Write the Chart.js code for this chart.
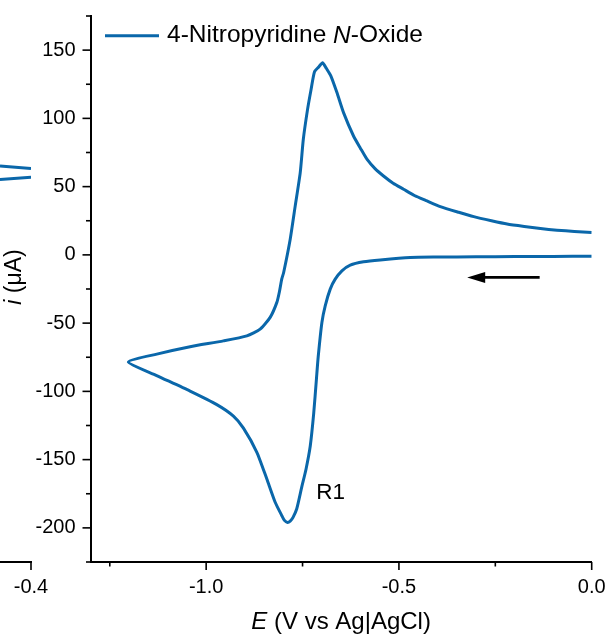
<!DOCTYPE html>
<html>
<head>
<meta charset="utf-8">
<script src="https://cdn.jsdelivr.net/npm/chart.js@4.4.0/dist/chart.umd.min.js"></script>
<style>
  html, body { margin: 0; padding: 0; background: #fff; }
  #wrap { position: relative; width: 616px; height: 644px; }
  #side, #main { position: absolute; left: 0; top: 0; }
</style>
</head>
<body>
<div id="wrap">
  <canvas id="side" width="64" height="644"></canvas>
  <canvas id="main" width="616" height="644"></canvas>
</div>
<script>
// cyclic voltammogram, cathodic scan 0 -> -1.2 V then back to 0 V
const potential = [
  // forward (cathodic)
  0.0, -0.1, -0.2, -0.3, -0.4, -0.4706, -0.5484, -0.5918, -0.6263, -0.6479, -0.6653,
  -0.6782, -0.6912, -0.6998, -0.7095, -0.714, -0.721, -0.730, -0.741, -0.752, -0.765,
  -0.775, -0.782, -0.789, -0.797, -0.8036, -0.821, -0.8426, -0.8685, -0.9033, -0.9293,
  -0.9724, -1.0417, -1.1284, -1.2019,
  // reverse (anodic)
  -1.128, -1.0417, -0.9552, -0.8945, -0.86, -0.834, -0.8166, -0.81, -0.804, -0.799,
  -0.782, -0.769, -0.756, -0.748, -0.737, -0.728, -0.719, -0.708, -0.698, -0.688,
  -0.6764, -0.6608, -0.6437, -0.6178, -0.600, -0.583, -0.562, -0.54, -0.515, -0.488,
  -0.46, -0.4272, -0.3927, -0.345, -0.306, -0.26, -0.2195, -0.175, -0.133, -0.09,
  -0.045, 0.0
];
const current = [
  -1.0, -1.1, -1.2, -1.4, -1.6, -1.9, -3.7, -5.1, -7.5, -11.7, -17.8,
  -25.1, -37.3, -49.5, -75, -91, -116, -140, -157, -170, -186,
  -192.5, -195, -196, -194.5, -191.1, -181.2, -164.2, -144.6, -126.9, -118.1,
  -109.7, -99.8, -88.4, -78.5,
  -72.7, -67.3, -63.0, -59.3, -54.4, -45.8, -34.8, -27, -17.8, -12.9,
  11.5, 35.9, 60.3, 84.7, 106.6, 121, 134.2, 137.7, 140.8, 136.5,
  131, 118.9, 104.2, 87.1, 78.2, 70.1, 63.2, 57.8, 52.5, 48.1,
  43.5, 39.5, 35.4, 31.2, 28.0, 25.0, 22.6, 20.8, 19.3, 18.1,
  17.2, 16.4
];

// ticks
const xTicks = [-1.25, -1.0, -0.75, -0.5, -0.25, 0.0];
const yTicks = [-225, -200, -175, -150, -125, -100, -75, -50, -25, 0, 25, 50, 75, 100, 125, 150, 175];

// piece of the neighbouring panel visible at the left edge
const sideE = [-0.48, -0.4];
const sideUpper = [65.1, 63.3];
const sideLower = [55.2, 56.8];
const sideTicks = [-0.4];

// annotations
const scanArrow = { from: [-0.135, -16.5], to: [-0.323, -16.5] };
const peakLabel = { text: 'R1', e: -0.677, i: -174 };
const legendParts = [['4-Nitropyridine ', false], ['N', true], ['-Oxide', false]];

const blue = '#0a67aa';
const family = '"Liberation Sans", Arial, sans-serif';

function isMajor(v, step) {
    return Math.abs(v / step - Math.round(v / step)) < 1e-6;
}

// short/long outward tick marks
const tickMarks = {
    id: 'tickMarks',
    afterDraw(chart, args, opts) {
        const ctx = chart.ctx;
        const area = chart.chartArea;
        ctx.save();
        ctx.strokeStyle = '#000';
        ctx.lineWidth = 1.6;
        Object.keys(chart.scales).forEach(id => {
            const s = chart.scales[id];
            if (!s.options.display) return;
            const step = opts[id];
            s.ticks.forEach(t => {
                const len = isMajor(t.value, step) ? 8 : 4.5;
                const p = s.getPixelForValue(t.value);
                ctx.beginPath();
                if (s.isHorizontal()) {
                    ctx.moveTo(p, area.bottom);
                    ctx.lineTo(p, area.bottom + len);
                } else {
                    ctx.moveTo(area.left - len, p);
                    ctx.lineTo(area.left, p);
                }
                ctx.stroke();
            });
        });
        ctx.restore();
    }
};

function drawRich(ctx, parts, x, y, size, align) {
    const widths = parts.map(p => {
        ctx.font = (p[1] ? 'italic ' : '') + size + 'px ' + family;
        return ctx.measureText(p[0]).width;
    });
    const total = widths.reduce((a, b) => a + b, 0);
    let cx = align === 'left' ? x : x - total / 2;
    ctx.textAlign = 'left';
    ctx.textBaseline = 'middle';
    parts.forEach((p, k) => {
        ctx.font = (p[1] ? 'italic ' : '') + size + 'px ' + family;
        ctx.fillText(p[0], cx, y);
        cx += widths[k];
    });
}

const decorations = {
    id: 'decorations',
    afterDraw(chart) {
        const ctx = chart.ctx;
        const area = chart.chartArea;
        const xs = chart.scales.x, ys = chart.scales.y;
        ctx.save();
        ctx.fillStyle = '#000';

        // legend
        const ly = area.top + 19.7;
        ctx.strokeStyle = chart.data.datasets[0].borderColor;
        ctx.lineWidth = 3;
        ctx.beginPath();
        ctx.moveTo(area.left + 14.5, ly);
        ctx.lineTo(area.left + 68.5, ly);
        ctx.stroke();
        drawRich(ctx, legendParts, area.left + 76.5, ly, 24.5, 'left');

        // axis titles
        drawRich(ctx, [['E', true], [' (V vs Ag|AgCl)', false]],
            (area.left + area.right) / 2, area.bottom + 60, 24);
        ctx.save();
        ctx.translate(14.5, (area.top + area.bottom) / 2 - 12);
        ctx.rotate(-Math.PI / 2);
        drawRich(ctx, [['i', true], [' (μA)', false]], 0, 0, 23);
        ctx.restore();

        // scan direction arrow
        const x0 = xs.getPixelForValue(scanArrow.from[0]);
        const y0 = ys.getPixelForValue(scanArrow.from[1]);
        const x1 = xs.getPixelForValue(scanArrow.to[0]);
        const y1 = ys.getPixelForValue(scanArrow.to[1]);
        ctx.strokeStyle = '#000';
        ctx.lineWidth = 2.6;
        ctx.beginPath();
        ctx.moveTo(x0, y0);
        ctx.lineTo(x1 + 12, y1);
        ctx.stroke();
        ctx.beginPath();
        ctx.moveTo(x1, y1);
        ctx.lineTo(x1 + 18, y1 - 5.5);
        ctx.lineTo(x1 + 18, y1 + 5.5);
        ctx.closePath();
        ctx.fill();

        // peak label
        ctx.font = '22.5px ' + family;
        ctx.textAlign = 'center';
        ctx.textBaseline = 'middle';
        ctx.fillText(peakLabel.text, xs.getPixelForValue(peakLabel.e), ys.getPixelForValue(peakLabel.i));
        ctx.restore();
    }
};

const tickFont = { family: family, size: 20 };

function noPad(s) {
    s.paddingTop = 0;
    s.paddingBottom = 0;
    s.paddingLeft = 0;
    s.paddingRight = 0;
}

new Chart(document.getElementById('main'), {
    type: 'scatter',
    data: {
        datasets: [{
            label: '4-Nitropyridine N-Oxide',
            data: potential.map((e, k) => ({ x: e, y: current[k] })),
            showLine: true,
            borderColor: blue,
            borderWidth: 3,
            pointRadius: 0,
            tension: 0.2,
            fill: false
        }]
    },
    options: {
        responsive: false,
        animation: false,
        layout: { padding: { left: 0, top: 16, right: 24.3, bottom: 0 } },
        plugins: {
            legend: { display: false },
            tooltip: { enabled: false },
            tickMarks: { x: 0.5, y: 50 }
        },
        scales: {
            x: {
                type: 'linear',
                min: -1.3,
                max: 0,
                afterBuildTicks: s => { s.ticks = xTicks.map(v => ({ value: v })); },
                afterFit: s => { s.height = 82; noPad(s); },
                grid: { display: true, drawOnChartArea: false, drawTicks: false },
                border: { display: true, color: '#000', width: 2 },
                ticks: {
                    font: tickFont, color: '#000', padding: 13, maxRotation: 0, autoSkip: false,
                    callback: v => isMajor(v, 0.5) ? v.toFixed(1) : ''
                }
            },
            y: {
                type: 'linear',
                min: -225,
                max: 175,
                afterBuildTicks: s => { s.ticks = yTicks.map(v => ({ value: v })); },
                afterFit: s => { s.width = 90.5; noPad(s); },
                grid: { display: true, drawOnChartArea: false, drawTicks: false },
                border: { display: true, color: '#000', width: 2 },
                ticks: {
                    font: tickFont, color: '#000', padding: 15, autoSkip: false,
                    callback: v => isMajor(v, 50) ? String(v) : ''
                }
            }
        }
    },
    plugins: [tickMarks, decorations]
});

new Chart(document.getElementById('side'), {
    type: 'scatter',
    data: {
        datasets: [
            { data: sideE.map((e, k) => ({ x: e, y: sideUpper[k] })), showLine: true, borderColor: blue, borderWidth: 3, pointRadius: 0 },
            { data: sideE.map((e, k) => ({ x: e, y: sideLower[k] })), showLine: true, borderColor: blue, borderWidth: 3, pointRadius: 0 }
        ]
    },
    options: {
        responsive: false,
        animation: false,
        layout: { padding: { left: 0, top: 16, right: 33, bottom: 0 } },
        plugins: {
            legend: { display: false },
            tooltip: { enabled: false },
            tickMarks: { x: 0.1 }
        },
        scales: {
            x: {
                type: 'linear',
                min: -0.48,
                max: -0.4,
                afterBuildTicks: s => { s.ticks = sideTicks.map(v => ({ value: v })); },
                afterFit: s => { s.height = 82; noPad(s); },
                grid: { display: true, drawOnChartArea: false, drawTicks: false },
                border: { display: true, color: '#000', width: 2 },
                ticks: {
                    font: tickFont, color: '#000', padding: 13, maxRotation: 0, autoSkip: false,
                    callback: v => v.toFixed(1)
                }
            },
            y: { type: 'linear', display: false, min: -225, max: 175 }
        }
    },
    plugins: [tickMarks]
});
</script>
</body>
</html>
